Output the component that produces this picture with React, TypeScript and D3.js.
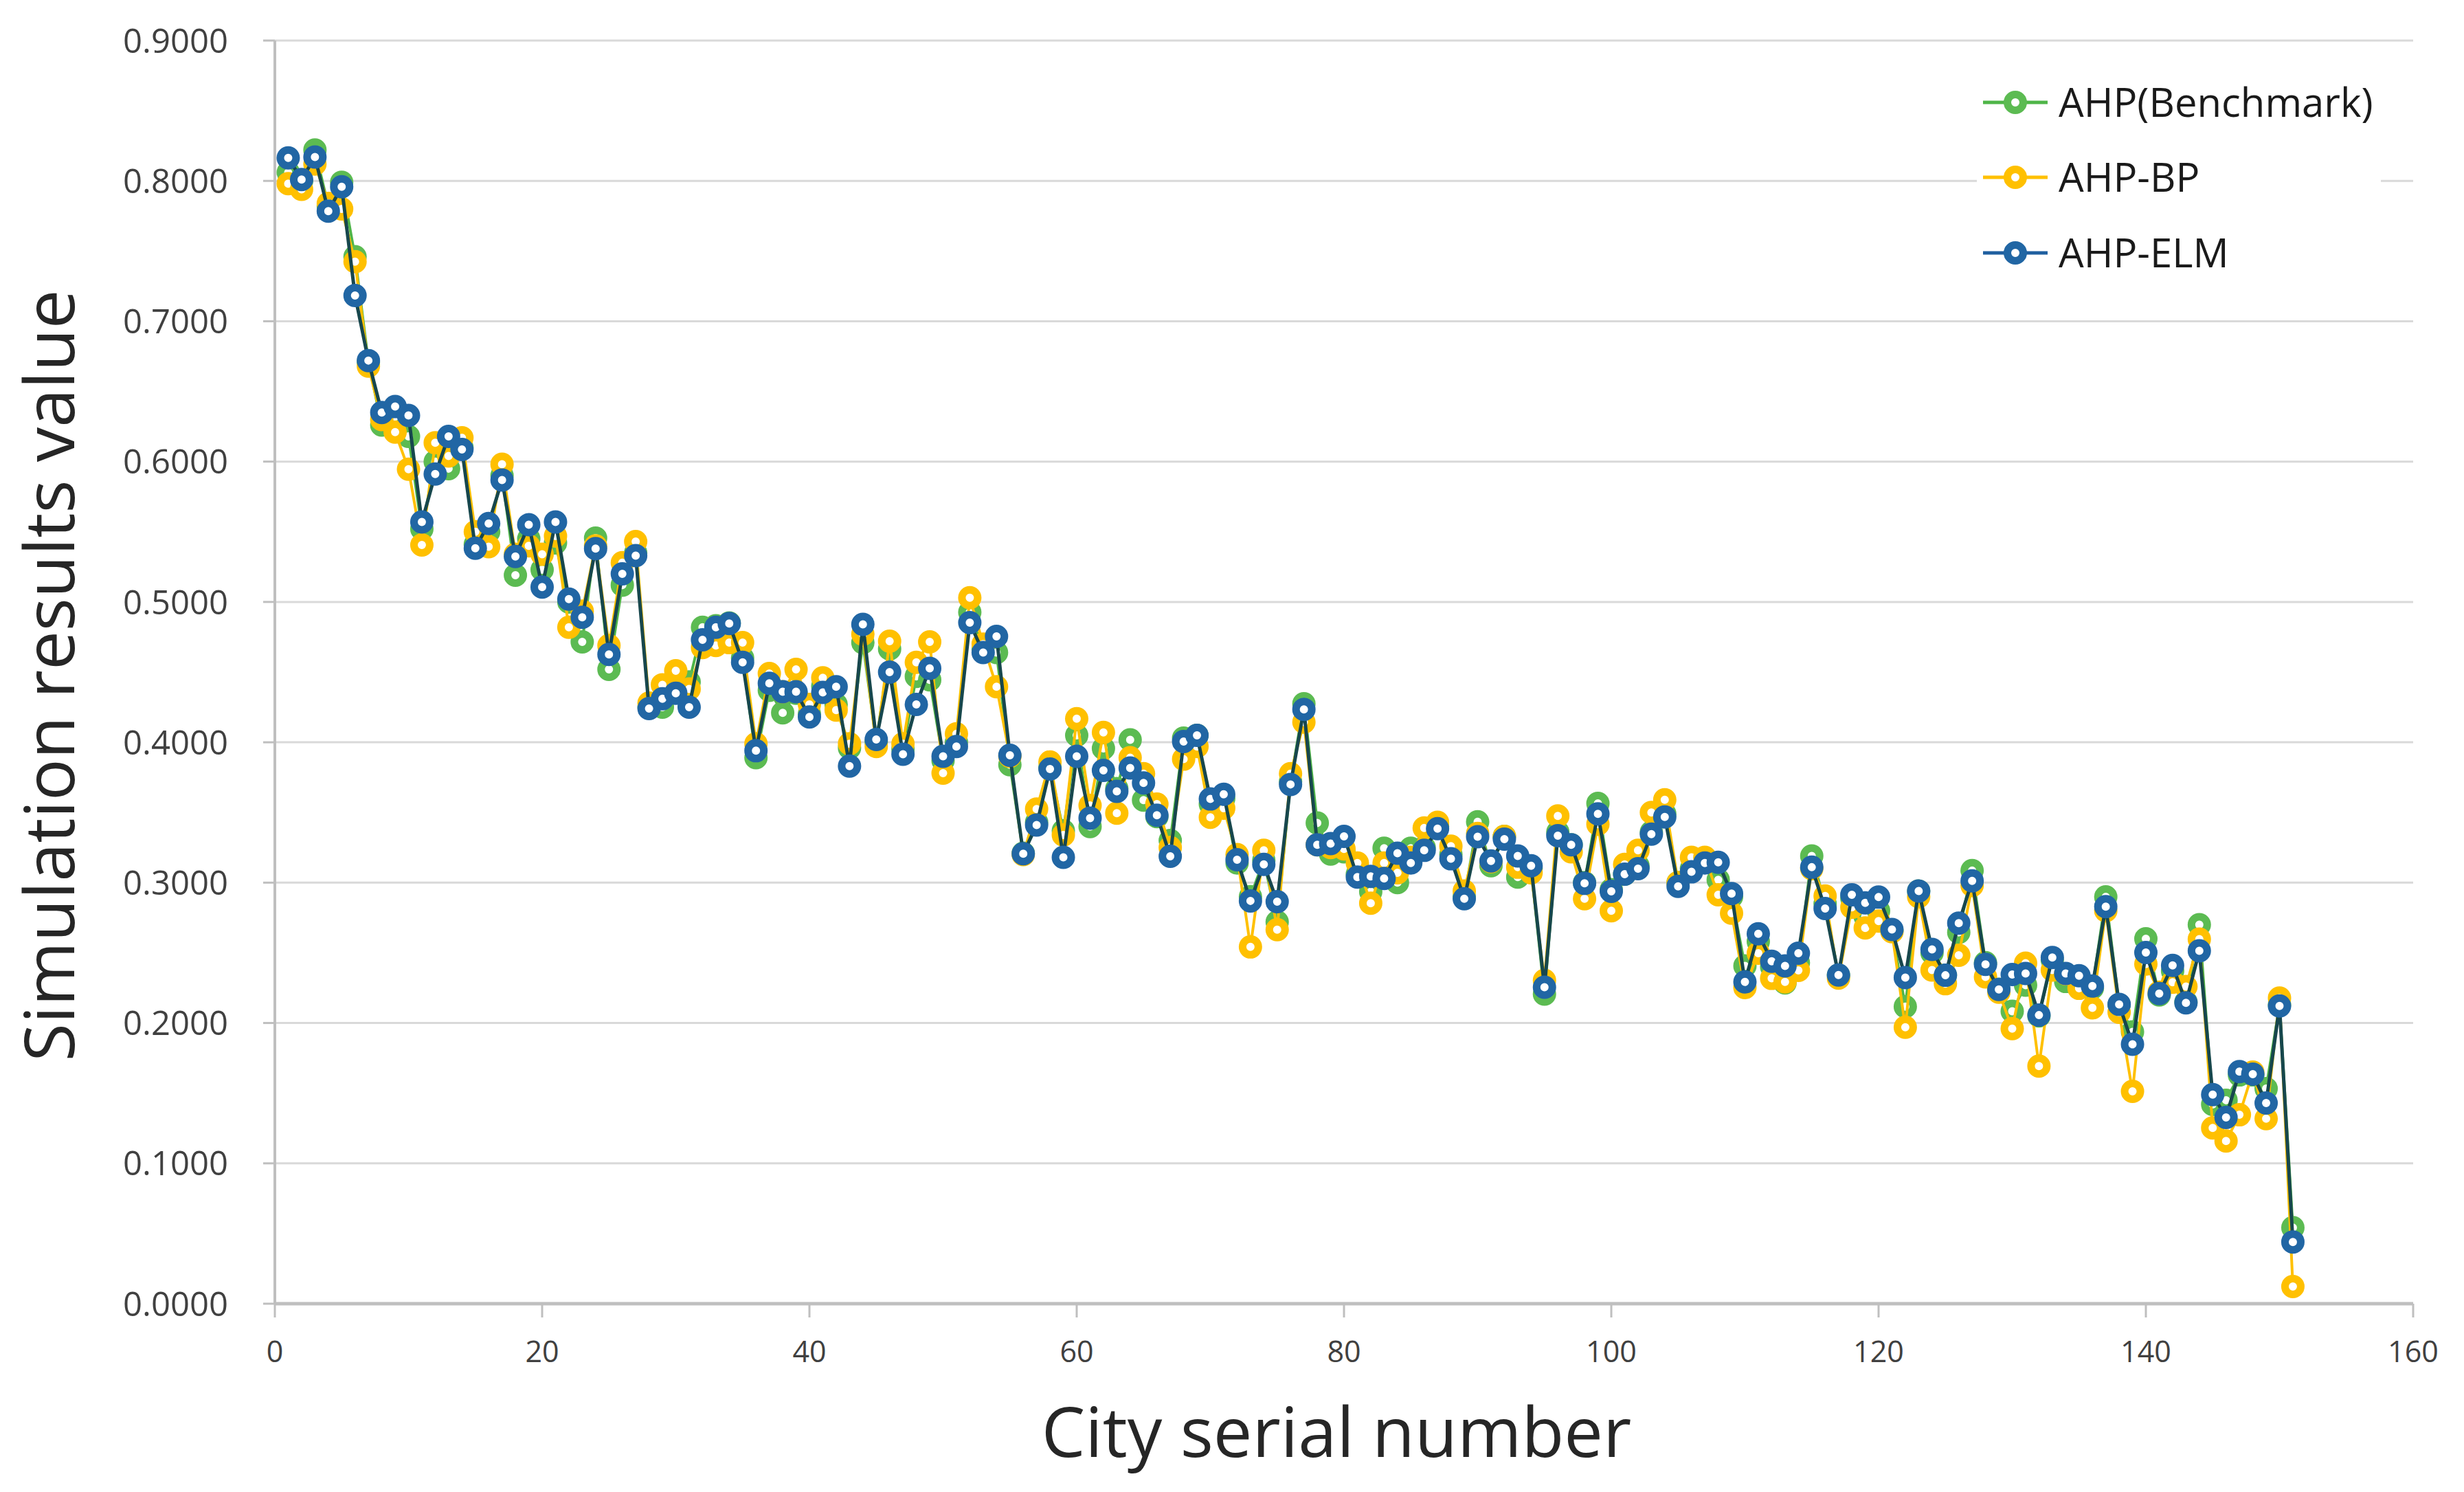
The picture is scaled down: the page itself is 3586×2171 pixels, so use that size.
import React from "react";
import * as d3 from "d3";

const seriesNames = ["AHP(Benchmark)", "AHP-BP", "AHP-ELM"];

const benchmark = [
  0.806, 0.8, 0.822, 0.782, 0.799, 0.746, 0.671, 0.626, 0.632, 0.618,
  0.552, 0.6, 0.595, 0.61, 0.541, 0.55, 0.59, 0.519, 0.545, 0.523,
  0.542, 0.5, 0.4715, 0.5455, 0.452, 0.512, 0.535, 0.425, 0.425, 0.437,
  0.443, 0.482, 0.483, 0.485, 0.46, 0.389, 0.437, 0.421, 0.435, 0.42,
  0.44, 0.427, 0.396, 0.471, 0.4, 0.4665, 0.395, 0.447, 0.4445, 0.387,
  0.4, 0.4927, 0.466, 0.464, 0.384, 0.321, 0.343, 0.382, 0.337, 0.405,
  0.34, 0.3956, 0.367, 0.4018, 0.3588, 0.347, 0.33, 0.403, 0.405, 0.356,
  0.36, 0.314, 0.29, 0.316, 0.272, 0.372, 0.4275, 0.3425, 0.3204, 0.322,
  0.306, 0.2935, 0.3245, 0.3, 0.3245, 0.325, 0.34, 0.32, 0.29, 0.3434,
  0.312, 0.333, 0.304, 0.31, 0.2206, 0.336, 0.327, 0.3, 0.3565, 0.295,
  0.306, 0.312, 0.336, 0.349, 0.3, 0.31, 0.3175, 0.302, 0.29, 0.2407,
  0.258, 0.24, 0.2285, 0.243, 0.319, 0.285, 0.234, 0.289, 0.2758, 0.28,
  0.266, 0.2117, 0.294, 0.25, 0.234, 0.2646, 0.3086, 0.243, 0.224, 0.2084,
  0.227, 0.205, 0.245, 0.2296, 0.232, 0.225, 0.2899, 0.213, 0.1937, 0.26,
  0.22, 0.237, 0.215, 0.27, 0.142, 0.145, 0.163, 0.163, 0.1533, 0.213,
  0.0542,
];

const bp = [
  0.798, 0.794, 0.812, 0.784, 0.78, 0.7425, 0.668, 0.63, 0.621, 0.5946,
  0.5406, 0.6134, 0.604, 0.617, 0.55, 0.5394, 0.5981, 0.534, 0.54, 0.534,
  0.547, 0.482, 0.4935, 0.54, 0.469, 0.528, 0.543, 0.428, 0.441, 0.451,
  0.438, 0.4675, 0.469, 0.471, 0.471, 0.399, 0.449, 0.436, 0.452, 0.427,
  0.446, 0.423, 0.399, 0.477, 0.397, 0.472, 0.399, 0.457, 0.4715, 0.378,
  0.406, 0.503, 0.47, 0.4396, 0.39, 0.32, 0.3524, 0.386, 0.334, 0.4168,
  0.355, 0.407, 0.3495, 0.389, 0.3776, 0.356, 0.325, 0.388, 0.397, 0.3466,
  0.353, 0.32, 0.2542, 0.323, 0.2665, 0.3776, 0.4144, 0.327, 0.325, 0.324,
  0.314, 0.2853, 0.314, 0.307, 0.318, 0.339, 0.343, 0.326, 0.294, 0.335,
  0.315, 0.333, 0.311, 0.307, 0.2304, 0.3475, 0.322, 0.2885, 0.3417, 0.28,
  0.313, 0.323, 0.35, 0.359, 0.3, 0.318, 0.318, 0.2913, 0.2783, 0.2252,
  0.2497, 0.2318, 0.2293, 0.2375, 0.31, 0.2905, 0.232, 0.2824, 0.2677, 0.2726,
  0.265, 0.197, 0.29, 0.2377, 0.228, 0.2483, 0.298, 0.2328, 0.222, 0.196,
  0.2426, 0.1693, 0.2377, 0.235, 0.2247, 0.2108, 0.28, 0.2076, 0.1513, 0.242,
  0.222, 0.229, 0.226, 0.2598, 0.1252, 0.1159, 0.1346, 0.165, 0.1318, 0.2178,
  0.0122,
];

const elm = [
  0.8164, 0.801, 0.817, 0.7784, 0.7958, 0.7183, 0.672, 0.635, 0.6392, 0.6329,
  0.557, 0.5911, 0.618, 0.6087, 0.5383, 0.5559, 0.5869, 0.5324, 0.555, 0.5106,
  0.557, 0.502, 0.489, 0.538, 0.4626, 0.52, 0.533, 0.424, 0.431, 0.435,
  0.425, 0.473, 0.482, 0.4846, 0.457, 0.394, 0.442, 0.436, 0.436, 0.418,
  0.4356, 0.4396, 0.383, 0.484, 0.402, 0.45, 0.3915, 0.427, 0.4527, 0.39,
  0.397, 0.4853, 0.464, 0.4755, 0.3907, 0.3206, 0.341, 0.381, 0.318, 0.39,
  0.346, 0.38, 0.365, 0.3817, 0.371, 0.348, 0.3188, 0.4005, 0.405, 0.3596,
  0.363, 0.3163, 0.287, 0.313, 0.2865, 0.37, 0.4234, 0.327, 0.3278, 0.333,
  0.304, 0.3044, 0.303, 0.321, 0.314, 0.323, 0.3385, 0.317, 0.2885, 0.3327,
  0.3155, 0.331, 0.319, 0.312, 0.2255, 0.3335, 0.327, 0.2995, 0.349, 0.2938,
  0.306, 0.31, 0.3346, 0.3468, 0.2974, 0.3077, 0.314, 0.3145, 0.2922, 0.2293,
  0.2636, 0.244, 0.2407, 0.2497, 0.311, 0.2816, 0.2342, 0.2913, 0.2856, 0.2897,
  0.2666, 0.2324, 0.294, 0.2524, 0.234, 0.2711, 0.3013, 0.2418, 0.2239, 0.2345,
  0.2353, 0.2056, 0.2467, 0.2353, 0.2337, 0.2263, 0.2829, 0.2133, 0.1848, 0.2502,
  0.221, 0.241, 0.2144, 0.2514, 0.149, 0.1327, 0.1654, 0.1636, 0.143, 0.2121,
  0.044,
];

const xTicks = [0, 20, 40, 60, 80, 100, 120, 140, 160];
const yTicks = [0, 0.1, 0.2, 0.3, 0.4, 0.5, 0.6, 0.7, 0.8, 0.9];

const W = 3586;
const H = 2171;
const FONT = "'Open Sans', 'Noto Sans', sans-serif";

export default function App() {
  const x = d3.scaleLinear().domain([0, 160]).range([400, 3512]);
  const y = d3.scaleLinear().domain([0, 0.9]).range([1897, 59]);

  const series = [
    { name: seriesNames[0], values: benchmark, line: "#4fb548", marker: "#5cbb52", lw: 4 },
    { name: seriesNames[1], values: bp, line: "#ffc000", marker: "#ffc000", lw: 4 },
    { name: seriesNames[2], values: elm, line: "#17474d", marker: "#2166a4", lw: 5 },
  ];

  const lineGen = d3
    .line<number>()
    .x((_, i) => x(i + 1))
    .y((d) => y(d));

  const legendY = [149, 258, 368];
  const legendLine = ["#4fb548", "#ffc000", "#1f5f9f"];

  return (
    <svg
      width={W}
      height={H}
      style={{ position: "absolute", left: 0, top: 0, background: "#fff" }}
    >
      <rect x={0} y={0} width={W} height={H} fill="#fff" />
      {yTicks.slice(1).map((t) => (
        <line key={t} x1={x(0)} x2={x(160)} y1={y(t)} y2={y(t)} stroke="#d9d9d9" strokeWidth={3} />
      ))}
      <line x1={x(0)} x2={x(0)} y1={y(0.9)} y2={y(0)} stroke="#bfbfbf" strokeWidth={4} />
      {yTicks.map((t) => (
        <line key={"yt" + t} x1={x(0) - 17} x2={x(0)} y1={y(t)} y2={y(t)} stroke="#bfbfbf" strokeWidth={3} />
      ))}
      <line x1={x(0)} x2={x(160)} y1={y(0)} y2={y(0)} stroke="#bfbfbf" strokeWidth={5} />
      {xTicks.map((t) => (
        <line key={"xt" + t} x1={x(t)} x2={x(t)} y1={y(0)} y2={y(0) + 20} stroke="#bfbfbf" strokeWidth={3} />
      ))}
      {yTicks.map((t) => (
        <text
          key={"yl" + t}
          x={332}
          y={y(t)}
          dy="0.36em"
          textAnchor="end"
          fontFamily={FONT}
          fontSize={49}
          fill="#404040"
        >
          {t.toFixed(4)}
        </text>
      ))}
      {xTicks.map((t) => (
        <text
          key={"xl" + t}
          x={x(t)}
          y={1982}
          textAnchor="middle"
          fontFamily={FONT}
          fontSize={43}
          fill="#404040"
        >
          {t}
        </text>
      ))}
      <text x={1945} y={2120} textAnchor="middle" fontFamily={FONT} fontSize={101} fill="#262626">
        City serial number
      </text>
      <text
        transform={`translate(108, 983) rotate(-90)`}
        textAnchor="middle"
        fontFamily={FONT}
        fontSize={101}
        fill="#262626"
      >
        Simulation results value
      </text>
      {series.map((s) => (
        <g key={s.name}>
          <path d={lineGen(s.values) || ""} fill="none" stroke={s.line} strokeWidth={s.lw} strokeLinejoin="round" />
          {s.values.map((v, i) => (
            <circle key={i} cx={x(i + 1)} cy={y(v)} r={11.5} fill="#fff" stroke={s.marker} strokeWidth={11} />
          ))}
        </g>
      ))}
      <rect x={2877} y={92} width={588} height={330} fill="#fff" />
      {series.map((s, i) => (
        <g key={"lg" + i}>
          <line x1={2886} x2={2980} y1={legendY[i]} y2={legendY[i]} stroke={legendLine[i]} strokeWidth={5} />
          <circle cx={2933} cy={legendY[i]} r={11.5} fill="#fff" stroke={s.marker} strokeWidth={11} />
          <text x={2996} y={legendY[i]} dy="0.36em" fontFamily={FONT} fontSize={58} fill="#1a1a1a">
            {s.name}
          </text>
        </g>
      ))}
    </svg>
  );
}
